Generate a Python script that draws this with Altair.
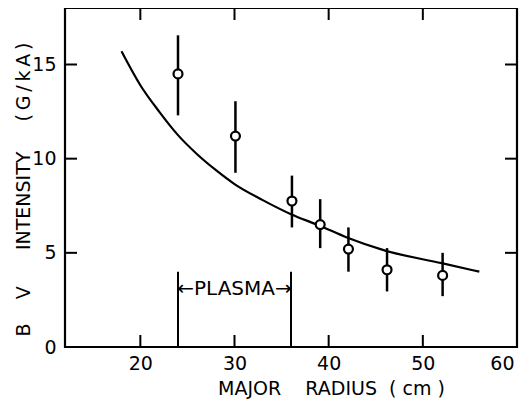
import altair as alt
import pandas as pd

# measured data points (major radius in cm, Bv intensity in G/kA)
pt_x = [24.0, 30.1, 36.1, 39.1, 42.1, 46.2, 52.1]
pt_y = [14.5, 11.2, 7.75, 6.5, 5.2, 4.1, 3.8]
pt_lo = [12.3, 9.25, 6.35, 5.25, 4.0, 2.95, 2.7]
pt_hi = [16.55, 13.05, 9.1, 7.85, 6.35, 5.25, 5.0]

# calculated curve
cv_x = [18.0, 20.0, 22.0, 24.0, 26.0, 28.0, 30.0, 33.0, 36.0, 39.0, 42.0, 46.0, 52.0, 56.0]
cv_y = [15.7, 13.9, 12.5, 11.25, 10.25, 9.4, 8.65, 7.8, 7.05, 6.45, 5.8, 5.12, 4.45, 4.0]

# plasma boundaries
plasma_x = [24.0, 36.0]
plasma_top = 4.0
plasma_label = "\u2190PLASMA\u2192"
plasma_label_x = 30.0
plasma_label_y = 3.1

x_ticks = [20, 30, 40, 50]
x_labels = [20, 30, 40, 50, 60]
y_ticks = [5, 10, 15]
y_labels = [0, 5, 10, 15]

W, H = 452, 339
TL = 12
FONT = "DejaVu Sans"
NB = "\u00a0"
TH = "\u2009"

pts = pd.DataFrame({"x": pt_x, "y": pt_y, "lo": pt_lo, "hi": pt_hi})
curve = pd.DataFrame({"x": cv_x, "y": cv_y})
plasma = pd.DataFrame({"x": plasma_x, "y0": [0.0, 0.0], "y1": [plasma_top] * 2})
label = pd.DataFrame({"x": [plasma_label_x], "y": [plasma_label_y], "t": [plasma_label]})
xt = pd.DataFrame({"x": x_ticks})
yt = pd.DataFrame({"y": y_ticks})

xscale = alt.Scale(domain=[12, 60], nice=False, zero=False)
yscale = alt.Scale(domain=[0, 18], nice=False, zero=False)

x_title = "MAJOR" + NB * 4 + "RADIUS" + NB * 2 + "(" + NB + "cm" + NB + ")"
y_title = ("B" + NB * 4 + "V" + NB * 6 + "INTENSITY" + NB * 5 +
           "(" + TH + "G" + TH + "/" + TH + "k" + TH + "A" + TH + ")")

xaxis = alt.Axis(values=x_labels, title=x_title, domain=False, ticks=False, grid=False,
                 labelFont=FONT, labelFontSize=19, labelColor="black", labelPadding=7,
                 labelFlush=True, labelFlushOffset=-3,
                 titleFont=FONT, titleFontSize=19, titleFontWeight="normal", titleColor="black",
                 titleX=266, titleY=47, titleAlign="center", titleBaseline="alphabetic")
yaxis = alt.Axis(values=y_labels, title=y_title, domain=False, ticks=False, grid=False,
                 labelFont=FONT, labelFontSize=19, labelColor="black", labelPadding=9,
                 labelFlush=False,
                 titleFont=FONT, titleFontSize=19, titleFontWeight="normal", titleColor="black",
                 titleX=-36, titleY=181, titleAlign="center", titleBaseline="alphabetic", titleAngle=270)

line = alt.Chart(curve).mark_line(color="black", strokeWidth=2.2, interpolate="monotone").encode(
    x=alt.X("x:Q", scale=xscale, axis=xaxis),
    y=alt.Y("y:Q", scale=yscale, axis=yaxis),
)

err = alt.Chart(pts).mark_rule(color="black", strokeWidth=2.5).encode(
    x="x:Q", y="lo:Q", y2="hi:Q")

circ = alt.Chart(pts).mark_point(shape="circle", filled=False, fill="white", fillOpacity=1,
                                 stroke="black", strokeWidth=2.2, size=80, opacity=1).encode(
    x="x:Q", y="y:Q")

pl = alt.Chart(plasma).mark_rule(color="black", strokeWidth=2).encode(
    x="x:Q", y="y0:Q", y2="y1:Q")

txt = alt.Chart(label).mark_text(font=FONT, fontSize=20, color="black", baseline="middle",
                                 align="center").encode(x="x:Q", y="y:Q", text="t:N")

tb = alt.Chart(xt).mark_rule(color="black", strokeWidth=2).encode(
    x="x:Q", y=alt.value(H), y2=alt.value(H - TL))
tt = alt.Chart(xt).mark_rule(color="black", strokeWidth=2).encode(
    x="x:Q", y=alt.value(0), y2=alt.value(TL))
tlft = alt.Chart(yt).mark_rule(color="black", strokeWidth=2).encode(
    y="y:Q", x=alt.value(0), x2=alt.value(TL))
trt = alt.Chart(yt).mark_rule(color="black", strokeWidth=2).encode(
    y="y:Q", x=alt.value(W), x2=alt.value(W - TL))

chart = alt.layer(line, err, pl, txt, tb, tt, tlft, trt, circ).properties(
    width=W, height=H,
    autosize=alt.AutoSizeParams(type="none"),
    padding={"left": 57, "top": 0, "right": 4, "bottom": 52},
    background="white",
    view=alt.ViewBackground(stroke="black", strokeWidth=2.2),
).configure_view(stroke="black", strokeWidth=2.2)

chart.save("out.html", embed_options={"renderer": "svg", "actions": False})
